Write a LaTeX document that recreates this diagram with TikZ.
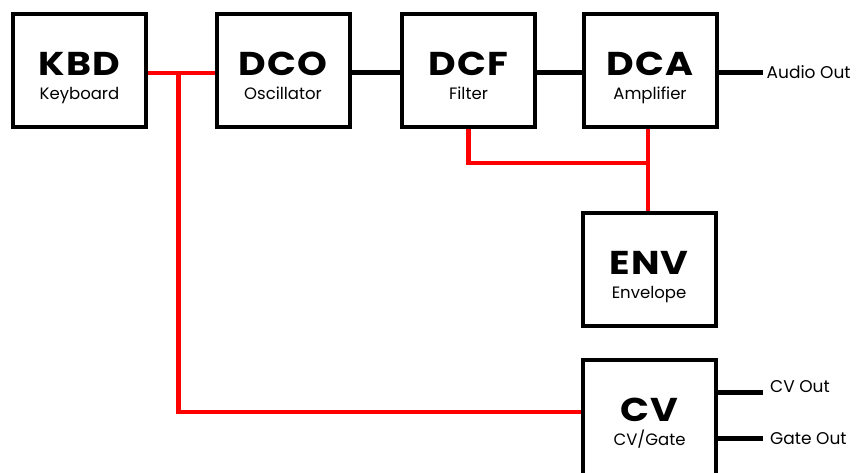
\documentclass[tikz,border=0pt]{standalone}
\usepackage{fontspec}
\setmainfont{Poppins}
\newfontfamily\ttlfont[FakeStretch=1.15, LetterSpace=3]{Poppins Bold}
\usetikzlibrary{calc}
\tikzset{
  blk/.style={draw=black, line width=4pt, fill=white, minimum width=133pt, minimum height=113pt, inner sep=0pt},
  ttl/.style={anchor=base, inner sep=0pt, font=\ttlfont\fontsize{33}{33}\selectfont},
  sub/.style={anchor=base, inner sep=0pt, font=\fontsize{16.5}{16.5}\selectfont},
  outlbl/.style={anchor=base west, inner sep=0pt, font=\fontsize{17}{17}\selectfont},
  wire/.style={draw=black, line width=5pt},
  cvwire/.style={draw=red, line width=4.5pt},
}
\begin{document}
\begin{tikzpicture}[x=1pt,y=-1pt]
\clip (0,0) rectangle (864,472);
\fill[white] (0,0) rectangle (864,472);
% boxes
\node[blk] (kbd) at (79.5,70.5) {};
\node[blk] (dco) at (283,70.5) {};
\node[blk] (dcf) at (468.5,70.5) {};
\node[blk] (dca) at (650,70.5) {};
\node[blk] (env) at (649,269.5) {};
\node[blk, minimum height=121pt] (cv)  at (649.5,420.5) {};
% titles and subtitles
\foreach \n/\t/\s in {kbd/KBD/Keyboard, dco/DCO/Oscillator, dcf/DCF/Filter, dca/DCA/Amplifier, env/ENV/Envelope, cv/CV/CV\slash Gate}{
  \node[ttl] (\n-t) at ($(\n.north)+(0,63.5)$) {\t};
  \node[sub] (\n-s) at ($(\n.north)+(0,87)$) {\s};
}
% black signal path
\draw[wire] ($(dco.east)+(0,2)$) -- ($(dcf.west)+(0,2)$);
\draw[wire] ($(dcf.east)+(0,2)$) -- ($(dca.west)+(0,2)$);
\coordinate (aout) at ($(dca.east)+(44,2)$);
\draw[wire] ($(dca.east)+(0,2)$) -- (aout);
\node[outlbl] (aoutl) at ($(aout)+(4,6)$) {Audio Out};
\coordinate (cvout) at ($(cv.east)+(45,-28.5)$);
\coordinate (gtout) at ($(cv.east)+(45,17.5)$);
\draw[wire] ($(cv.east)+(0,-28.5)$) -- (cvout);
\draw[wire] ($(cv.east)+(0,17.5)$) -- (gtout);
\node[outlbl] (cvoutl) at ($(cvout)+(7,0)$) {CV Out};
\node[outlbl] (gtoutl) at ($(gtout)+(7,6)$) {Gate Out};
% red control lines
\draw[cvwire] ($(kbd.east)+(0,2.5)$) -- ($(dco.west)+(0,2.5)$);
\coordinate (kj) at ($(kbd.east)+(30.5,2.5)$);
\draw[cvwire] (kj) |- ($(cv.west)+(0,-8.5)$);
\coordinate (ej) at ($(dca.south)+(-2,34)$);
\draw[cvwire] (dcf.south) |- (ej);
\draw[cvwire] ($(dca.south)+(-2,0)$) -- ($(env.north)+(-1,0)$);
\end{tikzpicture}
\end{document}
